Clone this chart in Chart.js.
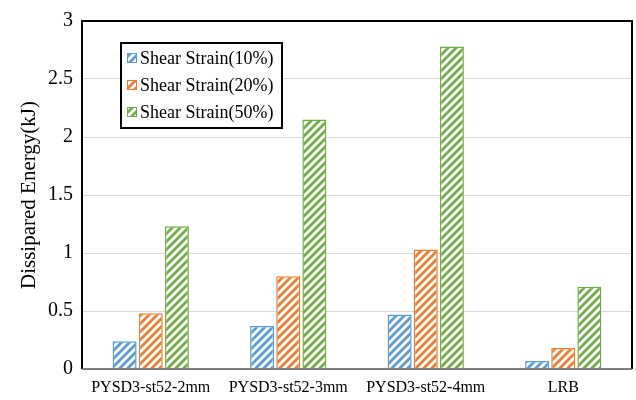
<!DOCTYPE html>
<html><head><meta charset="utf-8">
<script src="https://cdn.jsdelivr.net/npm/chart.js@4"></script>
<style>html,body{margin:0;padding:0;background:#fff}#w{width:636px;height:400px}</style>
</head><body><div id="w"><canvas id="c"></canvas></div>
<script>
const categories = ['PYSD3-st52-2mm','PYSD3-st52-3mm','PYSD3-st52-4mm','LRB'];
const seriesNames = ['Shear Strain(10%)','Shear Strain(20%)','Shear Strain(50%)'];
const strain10 = [0.24, 0.37, 0.47, 0.07];
const strain20 = [0.48, 0.80, 1.03, 0.18];
const strain50 = [1.23, 2.15, 2.78, 0.71];
const colors = ['#5B9BD5','#ED7D31','#70AD47'];
const SERIF = '"Liberation Serif", "Times New Roman", serif';

const ctx0 = document.getElementById('c').getContext('2d');
function stripeCanvas(c){
  const s = 8, cv = document.createElement('canvas');
  cv.width = s; cv.height = s;
  const g = cv.getContext('2d');
  g.fillStyle = '#fff'; g.fillRect(0,0,s,s);
  g.strokeStyle = c; g.lineWidth = 2.8;
  g.beginPath();
  g.moveTo(-s/2, s/2); g.lineTo(s/2, -s/2);
  g.moveTo(0, s); g.lineTo(s, 0);
  g.moveTo(s/2, s*1.5); g.lineTo(s*1.5, s/2);
  g.stroke();
  return cv;
}
const pats = colors.map(c => ctx0.createPattern(stripeCanvas(c), 'repeat'));

const frame = {
  id:'frame',
  afterDatasetsDraw(chart){
    const {ctx, chartArea:a} = chart;
    ctx.save();
    ctx.strokeStyle = '#000'; ctx.lineWidth = 2;
    ctx.beginPath();
    ctx.moveTo(a.left, a.bottom); ctx.lineTo(a.left, a.top); ctx.lineTo(a.right, a.top); ctx.lineTo(a.right, a.bottom);
    ctx.stroke();
    ctx.strokeStyle = '#595959'; ctx.lineWidth = 1.5;
    ctx.beginPath(); ctx.moveTo(a.left, a.bottom); ctx.lineTo(a.right, a.bottom); ctx.stroke();
    // legend
    const lx = 121, ly = 43, lw = 161, lh = 85;
    ctx.fillStyle = '#fff'; ctx.fillRect(lx, ly, lw, lh);
    ctx.strokeStyle = '#000'; ctx.lineWidth = 2; ctx.strokeRect(lx, ly, lw, lh);
    ctx.font = '18px ' + SERIF;
    ctx.textBaseline = 'middle'; ctx.textAlign = 'left';
    seriesNames.forEach((n,i)=>{
      const y = 58 + i*27;
      ctx.fillStyle = pats[i]; ctx.fillRect(lx+6, y-5, 10, 10);
      ctx.strokeStyle = colors[i]; ctx.lineWidth = 1; ctx.strokeRect(lx+6.5, y-4.5, 9, 9);
      ctx.fillStyle = '#000'; ctx.fillText(n, lx+19, y+1);
    });
    ctx.restore();
  }
};

const data = [strain10, strain20, strain50];
new Chart(document.getElementById('c'), {
  type:'bar',
  data:{
    labels: categories,
    datasets: data.map((d,i)=>({
      label: seriesNames[i], data: d,
      backgroundColor: pats[i], borderColor: colors[i], borderWidth: 1.5,
      barPercentage: 0.92, categoryPercentage: 0.57
    }))
  },
  options:{
    responsive:true, maintainAspectRatio:false, animation:false,
    layout:{padding:{top:17, right:4, bottom:0, left:0}},
    plugins:{legend:{display:false}, tooltip:{enabled:false}},
    scales:{
      x:{
        afterFit(s){ s.height = 31; },
        grid:{display:false, drawTicks:false},
        border:{display:false},
        ticks:{color:'#000', font:{family:SERIF, size:16}, padding:9, maxRotation:0, autoSkip:false}
      },
      y:{
        min:0, max:3,
        afterFit(s){ s.width = 82; },
        grid:{color:'#d9d9d9', lineWidth:1, drawTicks:false},
        border:{display:false},
        ticks:{stepSize:0.5, color:'#000', font:{family:SERIF, size:20}, padding:9,
               callback:(v)=>String(Number(v))},
        title:{display:true, text:'Dissipared Energy(kJ)', color:'#000', font:{family:SERIF, size:21}, padding:{top:17,bottom:0}}
      }
    }
  },
  plugins:[frame]
});
</script>
</body></html>
